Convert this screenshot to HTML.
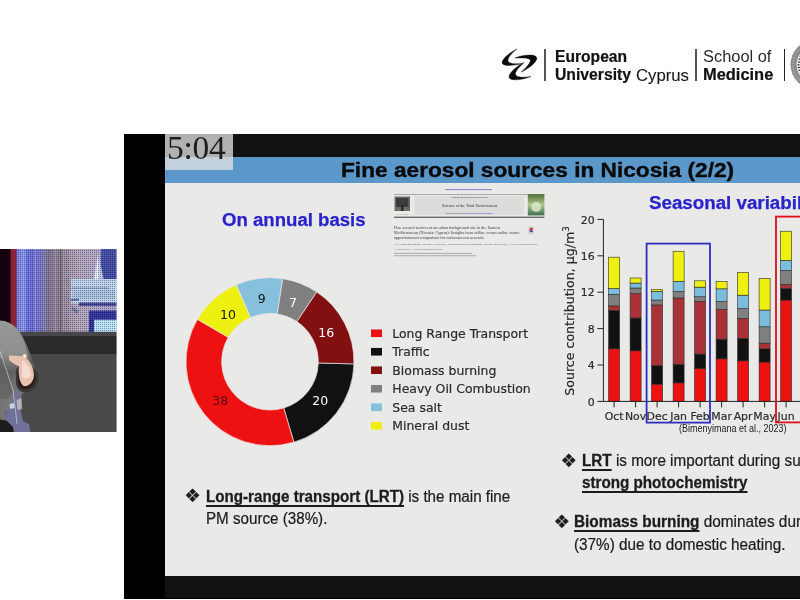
<!DOCTYPE html>
<html lang="en">
<head>
<meta charset="utf-8">
<title>Fine aerosol sources in Nicosia (2/2)</title>
<style>
html,body{margin:0;padding:0;}
body{width:800px;height:600px;overflow:hidden;background:#ffffff;position:relative;font-family:"Liberation Sans",sans-serif;color:#1a1a1a;}
.abs{position:absolute;white-space:nowrap;line-height:1;transform-origin:0 0;}
#stage{position:absolute;left:124.1px;top:133.5px;width:676px;height:465px;background:#000;}
#slide{position:absolute;left:165.4px;top:157px;width:634.8px;height:418.6px;background:#e9e9e8;overflow:hidden;}
#under{position:absolute;left:165.4px;top:575.6px;width:634.8px;height:22.9px;background:#111;}
#over{position:absolute;left:165.4px;top:133.5px;width:634.8px;height:23.5px;background:#111;}
#band{position:absolute;left:0;top:0;width:100%;height:26.2px;background:#5c97c9;}
#timer{position:absolute;left:165.4px;top:133.7px;width:67.5px;height:35.9px;background:rgba(226,226,226,0.77);overflow:hidden;}
#timer span{position:absolute;left:1.6px;top:-3.2px;font:33.5px/1 "Liberation Serif",serif;color:#1c1c1c;letter-spacing:-0.3px;white-space:nowrap;transform-origin:0 0;}
.t{font-weight:bold;color:#0a0a0a;-webkit-text-stroke:0.35px #0a0a0a;}
.h{font-weight:bold;color:#2a22cc;-webkit-text-stroke:0.25px #2a22cc;}
.b{font-size:16px;color:#1c1c1c;-webkit-text-stroke:0.22px #1c1c1c;}
.b b{text-decoration:underline;text-decoration-thickness:1.5px;text-underline-offset:2.7px;-webkit-text-stroke:0.3px #1c1c1c;}
.logo{color:#111;-webkit-text-stroke:0.2px #111;}
.vl{position:absolute;width:1.6px;background:#555;top:49px;height:31.8px;}
svg{position:absolute;left:0;top:0;overflow:hidden;}
</style>
</head>
<body>
<!-- header logo -->
<svg width="800" height="130" viewBox="0 0 800 130" style="filter:blur(0.3px)">

<g transform="translate(495 40) scale(0.08333)" fill="#0a0a0a" stroke="#0a0a0a" stroke-width="5" stroke-linejoin="round">
<path d="M262 108C180 150 90 220 85 270C85 320 200 310 340 283C250 290 150 290 155 240C160 200 220 140 262 108Z"/>
<path d="M240 215C330 180 490 160 502 215C505 270 400 340 315 385C380 330 440 260 420 235C400 210 300 215 240 215Z"/>
<path d="M345 270C270 310 170 390 168 440C170 500 330 480 430 438C350 455 240 450 245 405C250 360 310 310 345 270Z"/>
</g>
<g>
<circle cx="815" cy="64.6" r="24.5" fill="#8a8a8a"/>
<circle cx="815" cy="64.6" r="22" fill="none" stroke="#a4a4a4" stroke-width="2.4" stroke-dasharray="1.4 1.6"/>
<circle cx="815" cy="64.6" r="18.4" fill="#f6f6f6"/>
<circle cx="815" cy="64.6" r="16.4" fill="none" stroke="#2a2a2a" stroke-width="2" stroke-dasharray="1.3 1.5"/>
</g>

</svg>
<div class="vl" style="left:544.1px"></div>
<div class="abs logo" style="left:555px;top:49.3px;font-size:16px;font-weight:bold;transform:scaleX(0.977)">European</div>
<div class="abs logo" style="left:555px;top:67.3px;font-size:16px;font-weight:bold;transform:scaleX(0.983)">University</div>
<div class="abs logo" style="left:636.4px;top:67.1px;font-size:16.4px;color:#1a1a1a;-webkit-text-stroke:0.1px #1a1a1a;transform:scaleX(1.02)">Cyprus</div>
<div class="vl" style="left:695.1px"></div>
<div class="abs logo" style="left:703.2px;top:48.9px;font-size:16px;color:#2a2a2a;-webkit-text-stroke:0;transform:scaleX(1.025)">School of</div>
<div class="abs logo" style="left:703.2px;top:66.6px;font-size:15.8px;font-weight:bold;transform:scaleX(1.04)">Medicine</div>
<div class="vl" style="left:783.7px;background:#222"></div>

<!-- speaker video -->
<svg width="118" height="182.6" viewBox="0 249 118 182.6" style="top:249px;">

<defs>
<linearGradient id="led" x1="0" y1="0" x2="1" y2="0">
<stop offset="0" stop-color="#7078dc"/>
<stop offset="0.07" stop-color="#8c9cec"/>
<stop offset="0.15" stop-color="#6468d8"/>
<stop offset="0.22" stop-color="#7474c8"/>
<stop offset="0.3" stop-color="#8880a0"/>
<stop offset="0.4" stop-color="#847680"/>
<stop offset="0.46" stop-color="#9c8e98"/>
<stop offset="0.6" stop-color="#b2a4b4"/>
<stop offset="0.8" stop-color="#b2a6c2"/>
<stop offset="1" stop-color="#a8a0c8"/>
</linearGradient>
<linearGradient id="jk" gradientUnits="userSpaceOnUse" x1="0" y1="320" x2="0" y2="412">
<stop offset="0" stop-color="#969896"/>
<stop offset="0.36" stop-color="#8e908e"/>
<stop offset="0.47" stop-color="#767676"/>
<stop offset="0.56" stop-color="#606060"/>
<stop offset="0.72" stop-color="#727272"/>
<stop offset="1" stop-color="#7a7a7a"/>
</linearGradient>
<pattern id="dots" width="2" height="2" patternUnits="userSpaceOnUse">
<rect width="1" height="1" fill="#18185a" opacity="0.42"/>
<rect x="1" y="1" width="1" height="1" fill="#ffffff" opacity="0.16"/>
</pattern>
<filter id="vb" x="-5%" y="-5%" width="110%" height="110%"><feGaussianBlur stdDeviation="0.7"/></filter>
</defs>
<rect x="0" y="249" width="116.6" height="182.6" fill="#484847"/>
<g filter="url(#vb)">
<rect x="-2" y="247" width="13" height="92" fill="#12060e"/>
<rect x="10.6" y="247" width="6.2" height="85" fill="#8a2038"/>
<rect x="16.6" y="247" width="101" height="84.8" fill="url(#led)"/>
<rect x="26" y="247" width="3" height="85" fill="#5a60c8" opacity="0.5"/>
<rect x="34" y="247" width="2.5" height="85" fill="#a8b0e8" opacity="0.35"/>
<rect x="46" y="247" width="4" height="85" fill="#6e6478" opacity="0.4"/>
<rect x="54" y="247" width="3" height="85" fill="#c0b4c0" opacity="0.35"/>
<rect x="66" y="247" width="3" height="85" fill="#8a7e98" opacity="0.35"/>
<rect x="101" y="247" width="17" height="34" fill="#4048a0"/>
<path d="M93 281L97.5 254L100 262L104 281Z" fill="#c4c8e0"/>
<path d="M94.5 281L97.6 258L98.6 281Z" fill="#eef2fa"/>
<rect x="71" y="279" width="47" height="24.5" fill="#bcd4e8"/>
<rect x="71" y="287.5" width="38" height="1.2" fill="#7a94b0"/>
<rect x="73" y="290" width="42" height="9" fill="#a8c2da"/>
<rect x="79" y="302.5" width="39" height="3.4" fill="#3a4290"/>
<rect x="71" y="299" width="8" height="1.6" fill="#4a5a90"/>
<path d="M72.5 307L79 311L77 314L71 309.5Z" fill="#6a7ca8"/>
<rect x="89" y="310.6" width="29" height="22" fill="#2c2e94"/>
<rect x="94" y="319.8" width="24" height="13" fill="#b8e4f4"/>
<rect x="60.4" y="247" width="1" height="85" fill="#5a5266"/>
<rect x="16.6" y="247" width="101" height="84.8" fill="url(#dots)"/>
<rect x="20" y="331.8" width="98" height="4.6" fill="#47474a"/>
<rect x="20" y="336.2" width="98" height="18" fill="#2c292c"/>
<rect x="20" y="354" width="98" height="79" fill="#494947"/>
<!-- speaker -->
<path d="M-2 320.5C5 320 13 323 19 331C25 340 30 352 33 364L36 370L38 378L34 388L26 392L22 394L20 402L14 410L-2 412Z" fill="url(#jk)"/>
<path d="M22 336C26 344 30 354 33 364L36 370L37 376L31 372C30 360 27 348 22 336Z" fill="#5e5e5e"/>
<path d="M-2 358L4 360L10 376L13 392L6 400L-2 398Z" fill="#5e5e5c" opacity="0.6"/>
<path d="M16 371C17 366 22 364 30 366C36 368 39.5 374 38.5 380C37 388 31 392.5 25 392.5C19 392.5 15.5 387 16 380Z" fill="#3a3636"/>
<path d="M18 372C19 368 23 366 29 368C34 370 36 375 35.5 380C34 386 30 389 25 389C20 389 17.5 384 18 379Z" fill="#2a1a1c"/>
<path d="M9 355.5C13 355.5 18 356 22 356L24 353.8C26.2 353.2 27.2 356 26.2 358.5C31 362 34 369 34 376C33 383 28 387 23.5 386C19.5 383 18 374 19 366C15 365 11 362 9 359.5Z" fill="#e8c2ae"/>
<path d="M22 360C26 362 30 368 31 374C29 380 24 380 22 376Z" fill="#f6dcd0"/>
<path d="M23.5 354.5C25.6 354 26.4 356 25.8 358C24.6 358.6 23.4 357 23.5 354.5Z" fill="#f8eeee"/>
<path d="M14 392L18 388L20 400L21 412L23 421L29 424L30.5 433L6 433L6 412L12 402Z" fill="#70709a"/>
<path d="M16.5 400L21.5 398L22 409L17.5 410Z" fill="#b0b4b8"/>
<path d="M9.5 404L14 403L14.6 408L10 409Z" fill="#ccd4d6"/>
<path d="M-2 400L5 401L6 420L-2 420Z" fill="#747474"/>
<path d="M-2 419L7 421L13 427L14 433L-2 433Z" fill="#1c1c1c"/>
<path d="M0 351L7 372L13 390L15.5 410L17 424" fill="none" stroke="#d0d0d0" stroke-width="0.7"/>
</g>
<rect x="116.6" y="249" width="2" height="184" fill="#ffffff"/>

</svg>

<!-- presentation stage -->
<div id="stage"></div>
<div id="over"></div>
<div id="under"></div>
<div id="slide">
  <div id="band"></div>
</div>
<div id="timer"><span>5:04</span></div>

<div class="abs t" style="left:341px;top:160.7px;font-size:19.3px;transform:scaleX(1.176)">Fine aerosol sources in Nicosia (2/2)</div>
<div class="abs h" style="left:222.4px;top:210.76px;font-size:18px;transform:scaleX(1.033)">On annual basis</div>
<div class="abs h" style="left:649.2px;top:195px;font-size:17.5px;transform:scaleX(1.071)">Seasonal variability</div>

<svg width="800" height="600" viewBox="0 0 800 600" style="filter:blur(0.35px)">

<g filter="url(#pb)">
<defs><filter id="pb" x="-5%" y="-5%" width="110%" height="110%"><feGaussianBlur stdDeviation="0.35"/></filter>
<linearGradient id="cov" x1="0" y1="0" x2="0" y2="1"><stop offset="0" stop-color="#4c6c34"/><stop offset="0.5" stop-color="#b4c890"/><stop offset="1" stop-color="#3e6c50"/></linearGradient></defs>
<rect x="445" y="189.2" width="47" height="0.9" fill="#4a4ac4" opacity="0.7"/>
<rect x="394" y="194.2" width="150.4" height="0.5" fill="#666"/>
<rect x="414.7" y="196" width="109.3" height="19" fill="#dcdcdb"/>
<text x="469.4" y="198.3" text-anchor="middle" font-family="'Liberation Sans',sans-serif" font-size="2" fill="#444">Contents lists available at <tspan fill="#3a3ac0">ScienceDirect</tspan></text>
<text x="469.4" y="207.2" text-anchor="middle" font-family="'Liberation Serif',serif" font-size="4.1" fill="#333">Science of the Total Environment</text>
<text x="469.4" y="214" text-anchor="middle" font-family="'Liberation Sans',sans-serif" font-size="2" fill="#444">journal homepage: <tspan fill="#3a3ac0">www.elsevier.com/locate/scitotenv</tspan></text>
<!-- publisher mark -->
<rect x="394.5" y="196.5" width="15.5" height="14.5" fill="#555" opacity="0.85"/>
<rect x="396" y="198" width="12.5" height="9" fill="#3a3a3a"/>
<rect x="401" y="205" width="2.4" height="6" fill="#2a2a2a"/>
<text x="402.2" y="214.6" text-anchor="middle" font-family="'Liberation Serif',serif" font-size="2.6" fill="#c07a30">ELSEVIER</text>
<!-- cover -->
<rect x="527.8" y="194.2" width="16.6" height="21.2" fill="url(#cov)"/>
<circle cx="536.2" cy="207" r="5" fill="#e0e8d0" opacity="0.8"/>
<rect x="394" y="216.7" width="150.4" height="1" fill="#3a3a3a"/>
<g font-family="'Liberation Serif',serif" font-size="3.6" fill="#3c3c3c">
<text x="394" y="228.6" textLength="106" lengthAdjust="spacingAndGlyphs">Fine aerosol sources at an urban background site in the Eastern</text>
<text x="394" y="233.9" textLength="126" lengthAdjust="spacingAndGlyphs">Mediterranean (Nicosia; Cyprus): Insights from offline versus online source</text>
<text x="394" y="239.2" textLength="90" lengthAdjust="spacingAndGlyphs">apportionment comparison for carbonaceous aerosols</text>
</g>
<g font-family="'Liberation Serif',serif" font-size="2.9" fill="#5a5a5a">
<text x="394" y="245.3" textLength="144" lengthAdjust="spacingAndGlyphs">Elie Bimenyimana, Michael Pikridas, Konstantina Oikonomou, Minas Iakovides, Aliki Christodoulou,</text>
<text x="394" y="249.6" textLength="48" lengthAdjust="spacingAndGlyphs">Jean Sciare, Nikos Mihalopoulos</text>
</g>
<rect x="394" y="252.9" width="78" height="0.8" fill="#777" opacity="0.7"/>
<rect x="394" y="255.4" width="82" height="0.8" fill="#777" opacity="0.7"/>
<rect x="528" y="226.5" width="6.5" height="8" fill="#d8d8d8"/>
<circle cx="531.2" cy="229.2" r="1.6" fill="#c83030"/>
<rect x="529.6" y="230.6" width="3.2" height="1.6" fill="#3a4aa0"/>
</g>

<path d="M353.97 363.90A84.0 84.0 0 0 1 293.86 442.24L283.72 408.01A48.3 48.3 0 0 0 318.28 362.96Z" fill="#111111" stroke="#e8e8e6" stroke-width="0.7"/>
<path d="M293.86 442.24A84.0 84.0 0 0 1 197.47 319.32L228.30 337.33A48.3 48.3 0 0 0 283.72 408.01Z" fill="#ee1111" stroke="#e8e8e6" stroke-width="0.7"/>
<path d="M197.47 319.32A84.0 84.0 0 0 1 236.24 284.78L250.59 317.47A48.3 48.3 0 0 0 228.30 337.33Z" fill="#eef010" stroke="#e8e8e6" stroke-width="0.7"/>
<path d="M236.24 284.78A84.0 84.0 0 0 1 282.71 278.67L277.31 313.96A48.3 48.3 0 0 0 250.59 317.47Z" fill="#87c0dc" stroke="#e8e8e6" stroke-width="0.7"/>
<path d="M282.71 278.67A84.0 84.0 0 0 1 316.85 291.98L296.94 321.61A48.3 48.3 0 0 0 277.31 313.96Z" fill="#808080" stroke="#e8e8e6" stroke-width="0.7"/>
<path d="M316.85 291.98A84.0 84.0 0 0 1 353.97 363.90L318.28 362.96A48.3 48.3 0 0 0 296.94 321.61Z" fill="#821010" stroke="#e8e8e6" stroke-width="0.7"/>
<g font-family="'DejaVu Sans',sans-serif" font-size="12.5"><text x="320.2" y="404.7" text-anchor="middle" fill="#ffffff">20</text>
<text x="220.2" y="405.3" text-anchor="middle" fill="#5a0a0a">38</text>
<text x="227.9" y="318.9" text-anchor="middle" fill="#111111">10</text>
<text x="261.7" y="303.4" text-anchor="middle" fill="#111111">9</text>
<text x="293.0" y="307.2" text-anchor="middle" fill="#ffffff">7</text>
<text x="326.2" y="337.2" text-anchor="middle" fill="#ffffff">16</text></g>
<rect x="371" y="329.45" width="11" height="7.6" fill="#ee1111"/>
<text x="392.3" y="337.75" font-family="'DejaVu Sans',sans-serif" font-size="12.45" fill="#2a2a2a" stroke="#2a2a2a" stroke-width="0.2">Long Range Transport</text>
<rect x="371" y="347.95" width="11" height="7.6" fill="#111111"/>
<text x="392.3" y="356.25" font-family="'DejaVu Sans',sans-serif" font-size="12.45" fill="#2a2a2a" stroke="#2a2a2a" stroke-width="0.2">Traffic</text>
<rect x="371" y="366.45" width="11" height="7.6" fill="#821010"/>
<text x="392.3" y="374.75" font-family="'DejaVu Sans',sans-serif" font-size="12.45" fill="#2a2a2a" stroke="#2a2a2a" stroke-width="0.2">Biomass burning</text>
<rect x="371" y="384.95" width="11" height="7.6" fill="#808080"/>
<text x="392.3" y="393.25" font-family="'DejaVu Sans',sans-serif" font-size="12.45" fill="#2a2a2a" stroke="#2a2a2a" stroke-width="0.2">Heavy Oil Combustion</text>
<rect x="371" y="403.45" width="11" height="7.6" fill="#87c0dc"/>
<text x="392.3" y="411.75" font-family="'DejaVu Sans',sans-serif" font-size="12.45" fill="#2a2a2a" stroke="#2a2a2a" stroke-width="0.2">Sea salt</text>
<rect x="371" y="421.95" width="11" height="7.6" fill="#eeee10"/>
<text x="392.3" y="430.25" font-family="'DejaVu Sans',sans-serif" font-size="12.45" fill="#2a2a2a" stroke="#2a2a2a" stroke-width="0.2">Mineral dust</text>
<rect x="608.60" y="348.80" width="11.0" height="52.60" fill="#ee1111" stroke="#2a2a2a" stroke-width="0.6"/>
<rect x="608.60" y="310.40" width="11.0" height="38.40" fill="#111111" stroke="#2a2a2a" stroke-width="0.6"/>
<rect x="608.60" y="305.85" width="11.0" height="4.55" fill="#a83238" stroke="#2a2a2a" stroke-width="0.6"/>
<rect x="608.60" y="294.38" width="11.0" height="11.47" fill="#808080" stroke="#2a2a2a" stroke-width="0.6"/>
<rect x="608.60" y="288.56" width="11.0" height="5.82" fill="#7cbcdc" stroke="#2a2a2a" stroke-width="0.6"/>
<rect x="608.60" y="257.16" width="11.0" height="31.39" fill="#f0f010" stroke="#2a2a2a" stroke-width="0.6"/>
<rect x="630.10" y="350.80" width="11.0" height="50.60" fill="#ee1111" stroke="#2a2a2a" stroke-width="0.6"/>
<rect x="630.10" y="318.04" width="11.0" height="32.76" fill="#111111" stroke="#2a2a2a" stroke-width="0.6"/>
<rect x="630.10" y="293.56" width="11.0" height="24.48" fill="#a83238" stroke="#2a2a2a" stroke-width="0.6"/>
<rect x="630.10" y="288.01" width="11.0" height="5.55" fill="#808080" stroke="#2a2a2a" stroke-width="0.6"/>
<rect x="630.10" y="283.10" width="11.0" height="4.91" fill="#7cbcdc" stroke="#2a2a2a" stroke-width="0.6"/>
<rect x="630.10" y="278.00" width="11.0" height="5.10" fill="#f0f010" stroke="#2a2a2a" stroke-width="0.6"/>
<rect x="651.60" y="384.11" width="11.0" height="17.29" fill="#ee1111" stroke="#2a2a2a" stroke-width="0.6"/>
<rect x="651.60" y="365.64" width="11.0" height="18.47" fill="#111111" stroke="#2a2a2a" stroke-width="0.6"/>
<rect x="651.60" y="304.94" width="11.0" height="60.70" fill="#a83238" stroke="#2a2a2a" stroke-width="0.6"/>
<rect x="651.60" y="300.03" width="11.0" height="4.91" fill="#808080" stroke="#2a2a2a" stroke-width="0.6"/>
<rect x="651.60" y="291.29" width="11.0" height="8.74" fill="#7cbcdc" stroke="#2a2a2a" stroke-width="0.6"/>
<rect x="651.60" y="289.47" width="11.0" height="1.82" fill="#f0f010" stroke="#2a2a2a" stroke-width="0.6"/>
<rect x="673.10" y="382.84" width="11.0" height="18.56" fill="#ee1111" stroke="#2a2a2a" stroke-width="0.6"/>
<rect x="673.10" y="364.36" width="11.0" height="18.47" fill="#111111" stroke="#2a2a2a" stroke-width="0.6"/>
<rect x="673.10" y="298.02" width="11.0" height="66.34" fill="#a83238" stroke="#2a2a2a" stroke-width="0.6"/>
<rect x="673.10" y="291.56" width="11.0" height="6.46" fill="#808080" stroke="#2a2a2a" stroke-width="0.6"/>
<rect x="673.10" y="281.28" width="11.0" height="10.28" fill="#7cbcdc" stroke="#2a2a2a" stroke-width="0.6"/>
<rect x="673.10" y="251.25" width="11.0" height="30.03" fill="#f0f010" stroke="#2a2a2a" stroke-width="0.6"/>
<rect x="694.60" y="368.37" width="11.0" height="33.03" fill="#ee1111" stroke="#2a2a2a" stroke-width="0.6"/>
<rect x="694.60" y="354.08" width="11.0" height="14.29" fill="#111111" stroke="#2a2a2a" stroke-width="0.6"/>
<rect x="694.60" y="301.30" width="11.0" height="52.78" fill="#a83238" stroke="#2a2a2a" stroke-width="0.6"/>
<rect x="694.60" y="296.75" width="11.0" height="4.55" fill="#808080" stroke="#2a2a2a" stroke-width="0.6"/>
<rect x="694.60" y="287.19" width="11.0" height="9.56" fill="#7cbcdc" stroke="#2a2a2a" stroke-width="0.6"/>
<rect x="694.60" y="280.82" width="11.0" height="6.37" fill="#f0f010" stroke="#2a2a2a" stroke-width="0.6"/>
<rect x="716.10" y="358.81" width="11.0" height="42.59" fill="#ee1111" stroke="#2a2a2a" stroke-width="0.6"/>
<rect x="716.10" y="339.16" width="11.0" height="19.66" fill="#111111" stroke="#2a2a2a" stroke-width="0.6"/>
<rect x="716.10" y="309.49" width="11.0" height="29.67" fill="#a83238" stroke="#2a2a2a" stroke-width="0.6"/>
<rect x="716.10" y="301.57" width="11.0" height="7.92" fill="#808080" stroke="#2a2a2a" stroke-width="0.6"/>
<rect x="716.10" y="288.83" width="11.0" height="12.74" fill="#7cbcdc" stroke="#2a2a2a" stroke-width="0.6"/>
<rect x="716.10" y="281.64" width="11.0" height="7.19" fill="#f0f010" stroke="#2a2a2a" stroke-width="0.6"/>
<rect x="737.60" y="360.81" width="11.0" height="40.59" fill="#ee1111" stroke="#2a2a2a" stroke-width="0.6"/>
<rect x="737.60" y="338.43" width="11.0" height="22.39" fill="#111111" stroke="#2a2a2a" stroke-width="0.6"/>
<rect x="737.60" y="318.41" width="11.0" height="20.02" fill="#a83238" stroke="#2a2a2a" stroke-width="0.6"/>
<rect x="737.60" y="308.58" width="11.0" height="9.83" fill="#808080" stroke="#2a2a2a" stroke-width="0.6"/>
<rect x="737.60" y="295.20" width="11.0" height="13.38" fill="#7cbcdc" stroke="#2a2a2a" stroke-width="0.6"/>
<rect x="737.60" y="272.36" width="11.0" height="22.84" fill="#f0f010" stroke="#2a2a2a" stroke-width="0.6"/>
<rect x="759.10" y="362.00" width="11.0" height="39.40" fill="#ee1111" stroke="#2a2a2a" stroke-width="0.6"/>
<rect x="759.10" y="348.80" width="11.0" height="13.19" fill="#111111" stroke="#2a2a2a" stroke-width="0.6"/>
<rect x="759.10" y="343.16" width="11.0" height="5.64" fill="#a83238" stroke="#2a2a2a" stroke-width="0.6"/>
<rect x="759.10" y="326.78" width="11.0" height="16.38" fill="#808080" stroke="#2a2a2a" stroke-width="0.6"/>
<rect x="759.10" y="310.04" width="11.0" height="16.74" fill="#7cbcdc" stroke="#2a2a2a" stroke-width="0.6"/>
<rect x="759.10" y="278.55" width="11.0" height="31.49" fill="#f0f010" stroke="#2a2a2a" stroke-width="0.6"/>
<rect x="780.60" y="300.03" width="11.0" height="101.37" fill="#ee1111" stroke="#2a2a2a" stroke-width="0.6"/>
<rect x="780.60" y="288.56" width="11.0" height="11.47" fill="#111111" stroke="#2a2a2a" stroke-width="0.6"/>
<rect x="780.60" y="284.37" width="11.0" height="4.19" fill="#a83238" stroke="#2a2a2a" stroke-width="0.6"/>
<rect x="780.60" y="270.36" width="11.0" height="14.01" fill="#808080" stroke="#2a2a2a" stroke-width="0.6"/>
<rect x="780.60" y="260.35" width="11.0" height="10.01" fill="#7cbcdc" stroke="#2a2a2a" stroke-width="0.6"/>
<rect x="780.60" y="231.23" width="11.0" height="29.12" fill="#f0f010" stroke="#2a2a2a" stroke-width="0.6"/>
<path d="M603.4 219.4V401.4H800" fill="none" stroke="#222" stroke-width="1"/>
<path d="M597.4 401.40H603.4" stroke="#222" stroke-width="1"/>
<path d="M597.4 365.00H603.4" stroke="#222" stroke-width="1"/>
<path d="M597.4 328.60H603.4" stroke="#222" stroke-width="1"/>
<path d="M597.4 292.20H603.4" stroke="#222" stroke-width="1"/>
<path d="M597.4 255.80H603.4" stroke="#222" stroke-width="1"/>
<path d="M597.4 219.40H603.4" stroke="#222" stroke-width="1"/>
<path d="M614.10 401.4V407.4" stroke="#222" stroke-width="1"/>
<path d="M635.60 401.4V407.4" stroke="#222" stroke-width="1"/>
<path d="M657.10 401.4V407.4" stroke="#222" stroke-width="1"/>
<path d="M678.60 401.4V407.4" stroke="#222" stroke-width="1"/>
<path d="M700.10 401.4V407.4" stroke="#222" stroke-width="1"/>
<path d="M721.60 401.4V407.4" stroke="#222" stroke-width="1"/>
<path d="M743.10 401.4V407.4" stroke="#222" stroke-width="1"/>
<path d="M764.60 401.4V407.4" stroke="#222" stroke-width="1"/>
<path d="M786.10 401.4V407.4" stroke="#222" stroke-width="1"/>
<g font-family="'DejaVu Sans',sans-serif" font-size="10.9" fill="#2a2a2a" stroke="#2a2a2a" stroke-width="0.2">
<text x="594.6" y="405.5" text-anchor="end">0</text>
<text x="594.6" y="369.1" text-anchor="end">4</text>
<text x="594.6" y="332.7" text-anchor="end">8</text>
<text x="594.6" y="296.3" text-anchor="end">12</text>
<text x="594.6" y="259.9" text-anchor="end">16</text>
<text x="594.6" y="223.5" text-anchor="end">20</text>
<text x="614.1" y="419.8" text-anchor="middle">Oct</text>
<text x="635.6" y="419.8" text-anchor="middle">Nov</text>
<text x="657.1" y="419.8" text-anchor="middle">Dec</text>
<text x="678.6" y="419.8" text-anchor="middle">Jan</text>
<text x="700.1" y="419.8" text-anchor="middle">Feb</text>
<text x="721.6" y="419.8" text-anchor="middle">Mar</text>
<text x="743.1" y="419.8" text-anchor="middle">Apr</text>
<text x="764.6" y="419.8" text-anchor="middle">May</text>
<text x="786.1" y="419.8" text-anchor="middle">Jun</text>
<text transform="translate(573.5 311) rotate(-90)" text-anchor="middle" font-size="12.6">Source contribution, µg/m<tspan dy="-4.5" font-size="8.6">3</tspan></text>
</g>
<rect x="646.6" y="243.6" width="63.4" height="179" fill="none" stroke="#2c2cc4" stroke-width="1.8"/>
<rect x="776" y="216.6" width="60" height="205.8" fill="none" stroke="#de1018" stroke-width="1.8"/>
</svg>

<div class="abs" style="left:679px;top:424px;font-size:10.4px;color:#222;transform:scaleX(0.865)">(Bimenyimana et al., 2023)</div>

<div class="abs b" style="left:184.2px;top:486.5px;font-size:18.5px;font-family:'DejaVu Sans',sans-serif">❖</div>
<div class="abs b" style="left:205.5px;top:488.96px;transform:scaleX(0.948)"><b>Long-range transport (LRT)</b> is the main fine</div>
<div class="abs b" style="left:205.5px;top:511.46px;transform:scaleX(0.948)">PM source (38%).</div>

<div class="abs b" style="left:560.6px;top:451.6px;font-size:18.5px;font-family:'DejaVu Sans',sans-serif">❖</div>
<div class="abs b" style="left:581.9px;top:453.06px;transform:scaleX(0.953)"><b>LRT</b> is more important during summer due to</div>
<div class="abs b" style="left:581.9px;top:475.4px;transform:scaleX(0.95)"><b>strong photochemistry</b></div>

<div class="abs b" style="left:553.4px;top:513.2px;font-size:18.5px;font-family:'DejaVu Sans',sans-serif">❖</div>
<div class="abs b" style="left:574.4px;top:513.96px;transform:scaleX(0.96)"><b>Biomass burning</b> dominates during winter</div>
<div class="abs b" style="left:574.4px;top:537.46px;transform:scaleX(0.955)">(37%) due to domestic heating.</div>
</body>
</html>
